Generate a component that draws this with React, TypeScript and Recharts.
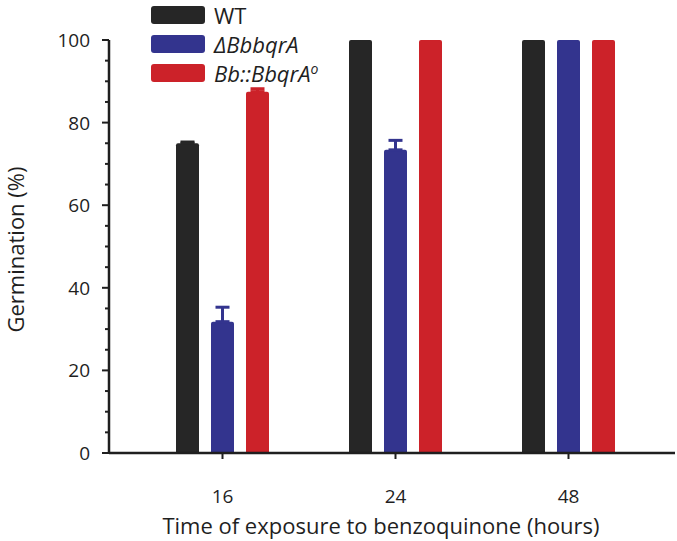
import { BarChart, Bar, XAxis, YAxis, ErrorBar, Legend } from "recharts";

const hours = ["16", "24", "48"];
const wt = [75, 100, 100];
const wtErr = [0.3, 0, 0];
const mutant = [31.8, 73.4, 100];
const mutantErr = [3.5, 2.3, 0];
const complemented = [87.5, 100, 100];
const complementedErr = [0.7, 0, 0];
const yTicks = [0, 5, 10, 15, 20, 25, 30, 35, 40, 45, 50, 55, 60, 65, 70, 75, 80, 85, 90, 95, 100];

const FONT = "'Open Sans', sans-serif";
const INK = "#1f1f1f";
const BLACK = "#262626";
const BLUE = "#33348e";
const RED = "#cc2229";

// one-sided (upward) error bars; no bar drawn where the error is zero
const upErr = (e: number) => (e > 0 ? [0, e] : null);

const data = hours.map((h, i) => ({
  hour: h,
  wt: wt[i],
  wtErr: upErr(wtErr[i]),
  mutant: mutant[i],
  mutantErr: upErr(mutantErr[i]),
  comp: complemented[i],
  compErr: upErr(complementedErr[i]),
}));

const YTick = (props: any) => {
  const { x, y, payload } = props;
  const major = payload.value % 20 === 0;
  return (
    <g>
      <line x1={x - (major ? 7 : 4)} x2={x} y1={y} y2={y} stroke={INK} strokeWidth={2} />
      {major && (
        <text x={x - 19} y={y} dy={7} textAnchor="end" fontSize={19} fontFamily={FONT} fill={INK}>
          {payload.value}
        </text>
      )}
    </g>
  );
};

const YTitle = (props: any) => {
  const vb = props.viewBox;
  const cx = 15;
  const cy = vb.y + vb.height / 2 + 3;
  return (
    <text x={cx} y={cy} transform={`rotate(-90, ${cx}, ${cy})`} textAnchor="middle" dominantBaseline="central" fontSize={22} fontFamily={FONT} fill={INK}>
      Germination (%)
    </text>
  );
};

const XTitle = (props: any) => {
  const vb = props.viewBox;
  return (
    <text x={381} y={vb.y + 72} textAnchor="middle" dominantBaseline="central" fontSize={22} fontFamily={FONT} fill={INK}>
      Time of exposure to benzoquinone (hours)
    </text>
  );
};

const legendItems = [
  { color: BLACK, label: <span>WT</span> },
  { color: BLUE, label: <i>ΔBbbqrA</i> },
  { color: RED, label: <i>Bb::BbqrA<sup style={{ fontSize: 14, lineHeight: 0 }}>o</sup></i> },
];

const LegendBox = () => (
  <div style={{ fontFamily: FONT, fontSize: 22, color: INK }}>
    {legendItems.map((it, i) => (
      <div key={i} style={{ display: "flex", alignItems: "center", height: 29 }}>
        <div style={{ width: 54, height: 18, background: it.color, borderRadius: 3, marginRight: 9 }} />
        <div style={{ lineHeight: "26px" }}>{it.label}</div>
      </div>
    ))}
  </div>
);

export default function App() {
  return (
    <div style={{ position: "absolute", left: 0, top: 0, width: 677, height: 541, background: "#fff" }}>
      <BarChart
        width={677}
        height={541}
        data={data}
        margin={{ top: 40, right: 2, bottom: 0, left: 0 }}
        barSize={23}
        barGap={12}
      >
        <XAxis
          dataKey="hour"
          height={88}
          padding={{ left: 27, right: 20 }}
          axisLine={{ stroke: INK, strokeWidth: 2.5 }}
          tickLine={{ stroke: INK, strokeWidth: 2 }}
          tickSize={6}
          tickMargin={31}
          tick={{ fill: INK, fontSize: 19, fontFamily: FONT }}
          label={<XTitle />}
        />
        <YAxis
          width={109}
          domain={[0, 100]}
          ticks={yTicks}
          interval={0}
          tickSize={0}
          tickMargin={0}
          tickLine={false}
          axisLine={{ stroke: INK, strokeWidth: 2.5 }}
          tick={<YTick />}
          label={<YTitle />}
        />
        <Legend
          layout="vertical"
          align="center"
          verticalAlign="middle"
          content={<LegendBox />}
          wrapperStyle={{ top: 0, left: 151, width: 260 }}
        />
        <Bar dataKey="wt" fill={BLACK} radius={[2, 2, 0, 0]} isAnimationActive={false}>
          <ErrorBar dataKey="wtErr" width={7} stroke={BLACK} strokeWidth={3} direction="y" />
        </Bar>
        <Bar dataKey="mutant" fill={BLUE} radius={[2, 2, 0, 0]} isAnimationActive={false}>
          <ErrorBar dataKey="mutantErr" width={7} stroke={BLUE} strokeWidth={3} direction="y" />
        </Bar>
        <Bar dataKey="comp" fill={RED} radius={[2, 2, 0, 0]} isAnimationActive={false}>
          <ErrorBar dataKey="compErr" width={7} stroke={RED} strokeWidth={3} direction="y" />
        </Bar>
      </BarChart>
    </div>
  );
}
